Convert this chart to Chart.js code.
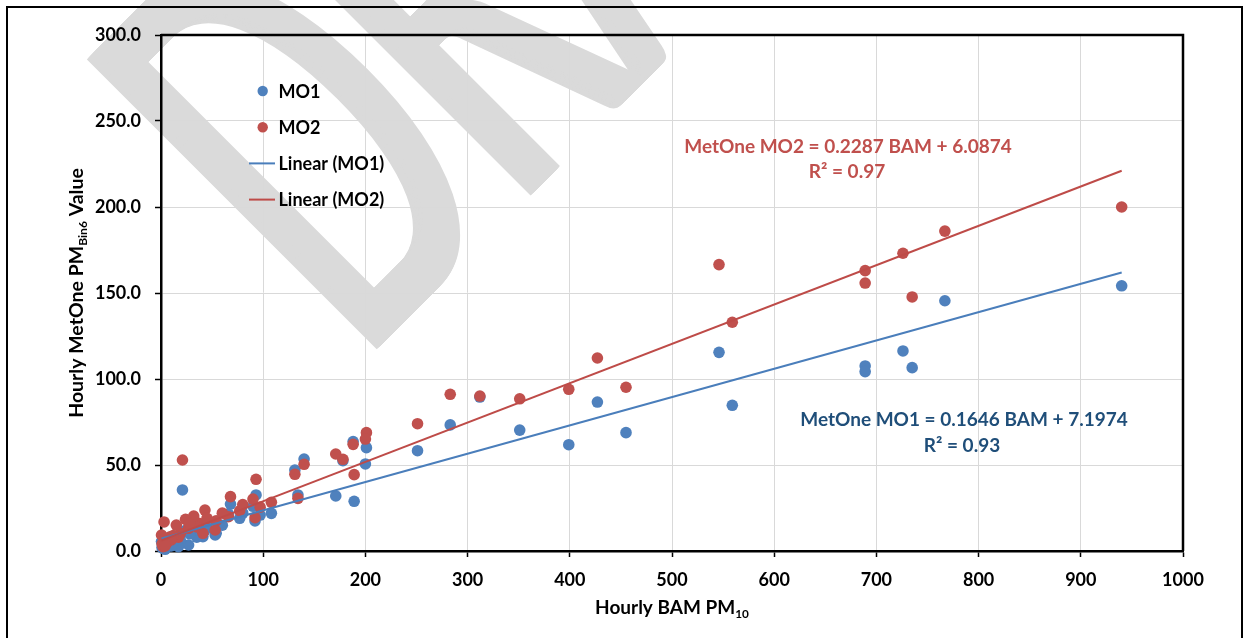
<!DOCTYPE html>
<html>
<head>
<meta charset="utf-8">
<script src="https://cdn.jsdelivr.net/npm/chart.js@4.4.1/dist/chart.umd.min.js"></script>
<style>
  body { margin: 0; background: #fff; }
  canvas { display: block; }
</style>
</head>
<body>
<canvas id="pmChart" width="1251" height="638"></canvas>
<script>
// hourly BAM PM10 (x) and the two MetOne Bin6 readings for the same hours
const bam = [940, 767, 735, 726, 689, 689, 559, 546, 455, 427, 399, 351, 312, 283, 251,
  201, 200, 188, 189, 178, 171, 140, 134, 131, 108, 97, 93, 90, 92, 77, 68, 66, 54, 53,
  43, 41, 37, 32, 27, 24, 21, 19, 17, 15, 12, 9, 6, 3, 2, 1, 0.5, 45, 60, 80, 35, 28, 10, 4];
const mo1 = [154.2, 145.5, 106.6, 116.3, 107.6, 104.3, 84.7, 115.5, 68.8, 86.6, 61.8, 70.3, 89.5, 73.3, 58.3,
  60.1, 50.6, 63.6, 28.9, 52.5, 32.0, 53.5, 32.6, 47.1, 21.9, 20.9, 32.6, 26.0, 17.5, 19.0, 27.3, 21.5, 10.3, 9.3,
  12.0, 8.3, 14.0, 12.5, 3.5, 12.0, 35.5, 6.0, 2.5, 7.5, 5.0, 4.0, 3.0, 2.5, 1.5, 2.0, 5.5, 16.0, 15.0, 22.0, 8.0, 10.0, 3.0, 1.0];
const mo2 = [200.0, 186.0, 147.7, 173.1, 163.0, 155.8, 133.0, 166.5, 95.2, 112.2, 94.0, 88.5, 90.1, 91.1, 74.0,
  68.8, 65.1, 62.0, 44.4, 53.3, 56.4, 50.4, 30.6, 44.6, 28.3, 25.5, 41.7, 30.2, 19.4, 23.4, 31.6, 19.9, 17.6, 12.2,
  23.8, 10.3, 16.1, 20.3, 13.2, 18.4, 52.9, 10.3, 8.0, 15.1, 9.0, 8.3, 5.0, 16.9, 2.5, 4.0, 9.3, 19.0, 22.0, 27.0, 14.0, 16.0, 6.5, 3.0];

// Excel trendlines as printed on the chart
const seriesNames = ['MO1', 'MO2'];
const trendSlope = [0.1646, 0.2287];
const trendIntercept = [7.1974, 6.0874];
const trendR2 = ['0.93', '0.97'];

const FONT = 'Lato, "Liberation Sans", sans-serif';
const BLUE = '#4f81bd', RED = '#c0504d';

function points(ys) {
  return bam.map((x, i) => ({ x: x, y: ys[i] }));
}

function trend(k) {
  const lo = Math.min(...bam), hi = Math.max(...bam);
  return [lo, hi].map(x => ({ x: x, y: trendSlope[k] * x + trendIntercept[k] }));
}

// draws a string made of runs, some of them subscript
function drawRuns(ctx, runs, cx, baseY, size) {
  const sub = size * 0.62;
  let total = 0;
  runs.forEach(r => {
    ctx.font = 'bold ' + (r.sub ? sub : size) + 'px ' + FONT;
    r.w = ctx.measureText(r.t).width;
    total += r.w;
  });
  let x = cx - total / 2;
  runs.forEach(r => {
    ctx.font = 'bold ' + (r.sub ? sub : size) + 'px ' + FONT;
    ctx.fillText(r.t, x, baseY + (r.sub ? size * 0.22 : 0));
    x += r.w;
  });
}

// the big diagonal "DRAFT" stamp behind the chart
const watermark = {
  id: 'watermark',
  beforeDraw(chart) {
    const ctx = chart.ctx;
    const sx = 0.5;
    ctx.save();
    ctx.translate(374, 352);
    ctx.rotate(-Math.PI / 4);
    ctx.scale(sx, 1);
    ctx.font = '572px ' + FONT;
    ctx.fillStyle = '#dadada';
    ctx.textBaseline = 'alphabetic';
    const m = ctx.measureText('D');
    // smear sideways so the squeezed stems keep some weight
    for (let d = 0; d <= 14; d += 1) {
      ctx.fillText('DRAFT', m.actualBoundingBoxLeft + d / sx, 0);
    }
    ctx.restore();
  }
};

const decorations = {
  id: 'decorations',
  afterDraw(chart) {
    const ctx = chart.ctx;
    const a = chart.chartArea;
    ctx.save();

    // top and right edge of the plot area
    ctx.strokeStyle = '#000';
    ctx.lineWidth = 2.5;
    ctx.beginPath();
    ctx.moveTo(a.left, a.top);
    ctx.lineTo(a.right, a.top);
    ctx.lineTo(a.right, a.bottom);
    ctx.stroke();

    // outer frame
    ctx.lineWidth = 2;
    ctx.strokeRect(7, 7, 1235, 700);

    // legend
    ctx.textBaseline = 'middle';
    ctx.textAlign = 'left';
    ctx.font = 'bold 18px ' + FONT;
    chart.data.datasets.forEach((ds, i) => {
      const y = 91 + i * 36.2;
      if (ds.showLine) {
        ctx.strokeStyle = ds.borderColor;
        ctx.lineWidth = 2;
        ctx.beginPath();
        ctx.moveTo(249, y);
        ctx.lineTo(275, y);
        ctx.stroke();
      } else {
        ctx.fillStyle = ds.backgroundColor;
        ctx.beginPath();
        ctx.arc(262.7, y, 5.2, 0, Math.PI * 2);
        ctx.fill();
      }
      ctx.fillStyle = '#000';
      ctx.fillText(ds.label, 278.5, y + 1);
    });

    // trendline equations
    ctx.textAlign = 'center';
    ctx.font = 'bold 19px ' + FONT;
    const eqPos = [[964, 420, 962, 446, '#1f4e79'], [848, 147, 847, 172, RED]];
    eqPos.forEach((p, k) => {
      ctx.fillStyle = p[4];
      ctx.fillText('MetOne ' + seriesNames[k] + ' = ' + trendSlope[k].toFixed(4) + ' BAM + ' +
        trendIntercept[k].toFixed(4), p[0], p[1]);
      ctx.fillText('R\u00b2 = ' + trendR2[k], p[2], p[3]);
    });

    // axis titles
    ctx.fillStyle = '#000';
    ctx.textAlign = 'left';
    ctx.textBaseline = 'alphabetic';
    drawRuns(ctx, [{ t: 'Hourly BAM PM' }, { t: '10', sub: true }], (a.left + a.right) / 2, 614, 19);

    ctx.save();
    ctx.translate(83, (a.top + a.bottom) / 2);
    ctx.rotate(-Math.PI / 2);
    drawRuns(ctx, [{ t: 'Hourly MetOne PM' }, { t: 'Bin6', sub: true }, { t: ' Value' }], 0, 0, 19.5);
    ctx.restore();

    ctx.restore();
  }
};

const tickFont = { family: FONT, size: 18, weight: 'bold' };

new Chart(document.getElementById('pmChart'), {
  type: 'scatter',
  data: {
    datasets: [
      { label: 'MO1', data: points(mo1), backgroundColor: BLUE, borderWidth: 0, pointRadius: 5.8, clip: false, order: 4 },
      { label: 'MO2', data: points(mo2), backgroundColor: RED, borderWidth: 0, pointRadius: 5.8, clip: false, order: 3 },
      { label: 'Linear (MO1)', data: trend(0), showLine: true, borderColor: '#4a7ebb', borderWidth: 2, pointRadius: 0, order: 2 },
      { label: 'Linear (MO2)', data: trend(1), showLine: true, borderColor: '#be4b48', borderWidth: 2, pointRadius: 0, order: 1 }
    ]
  },
  options: {
    responsive: false,
    animation: false,
    devicePixelRatio: 1,
    layout: { padding: { top: 35, right: 68, bottom: 0, left: 0 } },
    plugins: { legend: { display: false }, tooltip: { enabled: false } },
    scales: {
      x: {
        type: 'linear', min: 0, max: 1000,
        ticks: { stepSize: 100, color: '#000', font: tickFont, padding: 12, maxRotation: 0, callback: v => String(v) },
        grid: { color: '#d9d9d9', tickColor: '#000', tickLength: 6, tickWidth: 1.5 },
        border: { color: '#000', width: 2.5 },
        afterFit(s) { s.height = 87; }
      },
      y: {
        min: 0, max: 300,
        ticks: { stepSize: 50, color: '#000', font: tickFont, padding: 14, callback: v => v.toFixed(1) },
        grid: { color: '#d9d9d9', tickColor: '#000', tickLength: 6, tickWidth: 1.5 },
        border: { color: '#000', width: 2.5 },
        afterFit(s) { s.width = 161; }
      }
    }
  },
  plugins: [watermark, decorations]
});
</script>
</body>
</html>
